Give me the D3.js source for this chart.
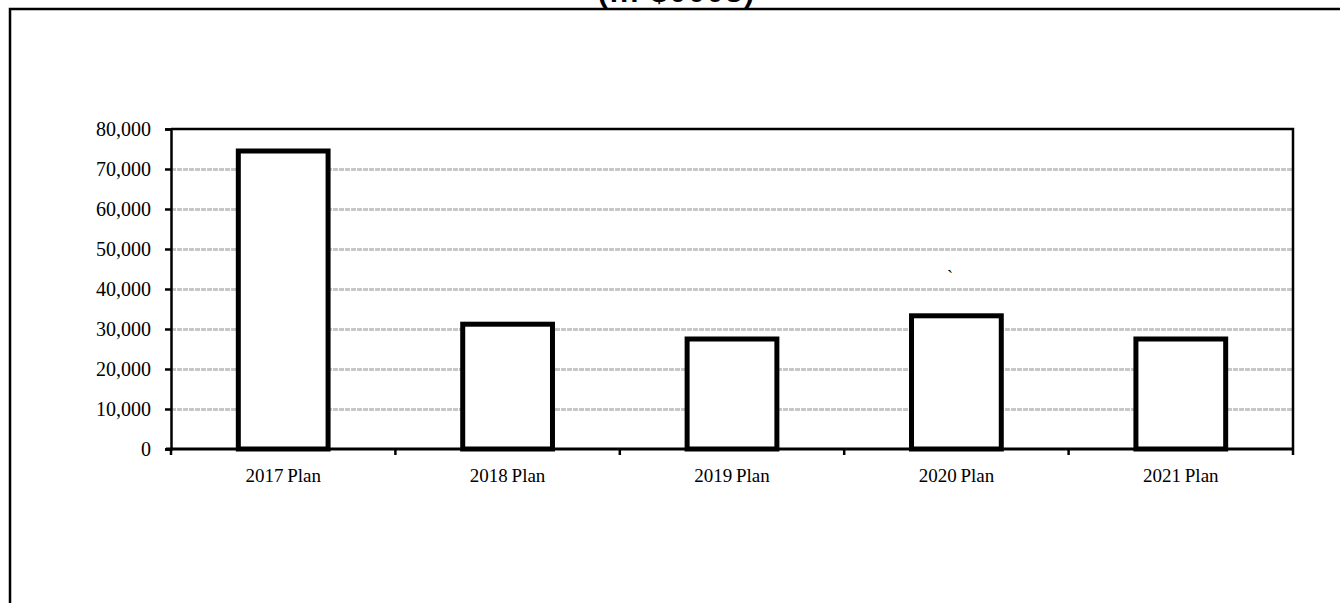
<!DOCTYPE html>
<html>
<head>
<meta charset="utf-8">
<script src="https://cdn.jsdelivr.net/npm/d3@7"></script>
<style>
  body { margin: 0; background: #fff; }
  svg { display: block; }
</style>
</head>
<body>
<svg id="chart"></svg>
<script>
var width = 1340;
var height = 603;

var categories = ["2017 Plan", "2018 Plan", "2019 Plan", "2020 Plan", "2021 Plan"];
var values = [74500, 31200, 27500, 33300, 27500];
var yTicks = [0, 10000, 20000, 30000, 40000, 50000, 60000, 70000, 80000];

var margin = {left: 171, right: 1340 - 1293, top: 129, bottom: 603 - 449};

var svg = d3.select("#chart").attr("width", width).attr("height", height);

// outer frame (partly off the page)
svg.append("path")
    .attr("d", "M10,603V9H1340")
    .attr("fill", "none")
    .attr("stroke", "#000")
    .attr("stroke-width", 2.5);

// title, cut off by the top of the page
svg.append("text")
    .attr("x", 677)
    .attr("y", 2)
    .attr("text-anchor", "middle")
    .attr("font-family", "Liberation Sans, Arial, sans-serif")
    .attr("font-weight", "bold")
    .attr("font-size", 30)
    .attr("letter-spacing", 2)
    .text("(in $000s)");

var x = d3.scaleBand()
    .domain(categories)
    .range([margin.left, width - margin.right])
    .paddingInner(0.6)
    .paddingOuter(0.3);

var xb = d3.scaleBand()
    .domain(categories)
    .range([margin.left, width - margin.right]);

var y = d3.scaleLinear()
    .domain([0, 80000])
    .range([height - margin.bottom, margin.top]);

// gridlines
svg.append("g")
    .selectAll("line")
    .data(yTicks.filter(function(d) { return d > 0 && d < 80000; }))
    .enter().append("line")
    .attr("x1", margin.left)
    .attr("x2", width - margin.right)
    .attr("y1", function(d) { return y(d) + 0.5; })
    .attr("y2", function(d) { return y(d) + 0.5; })
    .attr("stroke", "#c8c8c8")
    .attr("stroke-width", 3)
    .attr("stroke-dasharray", "5,1");

// top and right border of plot area
svg.append("path")
    .attr("d", "M" + margin.left + "," + y(80000) + "H" + (width - margin.right) + "V" + y(0))
    .attr("fill", "none")
    .attr("stroke", "#000")
    .attr("stroke-width", 2.5);

// bars
svg.append("g")
    .selectAll("rect")
    .data(values)
    .enter().append("rect")
    .attr("x", function(d, i) { return x(categories[i]); })
    .attr("width", x.bandwidth())
    .attr("y", function(d) { return y(d); })
    .attr("height", function(d) { return y(0) - y(d); })
    .attr("fill", "#fff")
    .attr("stroke", "#000")
    .attr("stroke-width", 5);

// y axis
var yAxis = svg.append("g")
    .attr("transform", "translate(" + margin.left + ",0)")
    .call(d3.axisLeft(y).tickValues(yTicks).tickSize(6).tickPadding(14)
        .tickFormat(d3.format(",")));
yAxis.select(".domain").attr("stroke-width", 2.5);
yAxis.selectAll(".tick line").attr("stroke-width", 2.5);
yAxis.selectAll("text")
    .attr("font-family", "Liberation Serif, Times New Roman, serif")
    .attr("font-size", 20)
    .attr("fill", "#000");

// x axis
var xAxis = svg.append("g")
    .attr("transform", "translate(0," + y(0) + ")");
xAxis.append("line")
    .attr("x1", margin.left - 5)
    .attr("x2", width - margin.right)
    .attr("stroke", "#000")
    .attr("stroke-width", 3);
xAxis.selectAll(".tk")
    .data(categories)
    .enter().append("line")
    .attr("class", "tk")
    .attr("x1", function(d) { return xb(d); })
    .attr("x2", function(d) { return xb(d); })
    .attr("y1", 0)
    .attr("y2", 6)
    .attr("stroke", "#000")
    .attr("stroke-width", 2.5);
xAxis.append("line")
    .attr("x1", width - margin.right)
    .attr("x2", width - margin.right)
    .attr("y1", 0)
    .attr("y2", 6)
    .attr("stroke", "#000")
    .attr("stroke-width", 2.5);
xAxis.selectAll(".lbl")
    .data(categories)
    .enter().append("text")
    .attr("class", "lbl")
    .attr("x", function(d) { return xb(d) + xb.bandwidth() / 2; })
    .attr("y", 33)
    .attr("text-anchor", "middle")
    .attr("font-family", "Liberation Serif, Times New Roman, serif")
    .attr("font-size", 19)
    .attr("word-spacing", -1)
    .text(function(d) { return d; });

// stray mark in the original
svg.append("text")
    .attr("x", 950)
    .attr("y", 283)
    .attr("text-anchor", "middle")
    .attr("font-family", "Liberation Serif, Times New Roman, serif")
    .attr("font-size", 18)
    .text("`");
</script>
</body>
</html>
